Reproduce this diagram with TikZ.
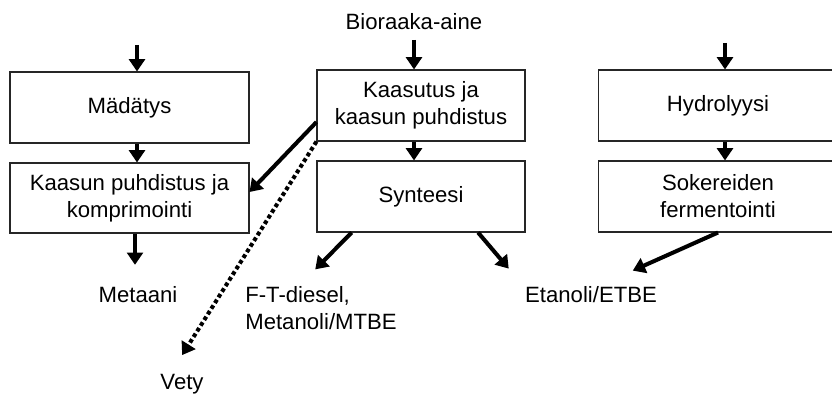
\documentclass[tikz,border=0pt]{standalone}
\usepackage{fontspec}
\setmainfont{Liberation Sans}
\usetikzlibrary{arrows.meta}

\begin{document}
\begin{tikzpicture}[x=0.02cm,y=-0.02cm,
    every node/.style={font=\fontsize{12.6}{15.4}\selectfont, align=center},
    box/.style={draw=black!85, line width=0.6pt, minimum width=4.8cm, minimum height=1.42cm, inner sep=0pt},
    flow/.style={line width=2.3pt, -{Triangle[length=7pt,width=9pt]}},
    vflow/.style={flow, dash pattern=on 2.2pt off 1.6pt}]
    \useasboundingbox (0,0) rectangle (832,394);

    % Process boxes
    \node[box, minimum width=4.78cm] (madatys) at (129.5,107.5) {Mädätys};
    \node[box, minimum width=4.78cm, minimum height=1.4cm] (puhdistus) at (129.5,198) {Kaasun puhdistus ja\\komprimointi};
    \node[box, minimum width=4.16cm] (kaasutus) at (421,105.5) {Kaasutus ja\\kaasun puhdistus};
    \node[box, minimum width=4.16cm] (synteesi) at (421,196.5) {Synteesi};
    \node[box] (hydrolyysi) at (718,105.5) {Hydrolyysi};
    \node[box] (sokerit) at (718,196.5) {Sokereiden\\fermentointi};

    % Inputs and products
    \node (bioraaka) at (414,22) {Bioraaka-aine};
    \node (metaani) at (138,295) {Metaani};
    \node (vety) at (182,384) {Vety};
    \node[align=left] (ftdiesel) at (321,308.5) {F-T-diesel,\\Metanoli/MTBE};
    \node (etanoli) at (591,295) {Etanoli/ETBE};

    \coordinate (inL) at (137,45);
    \coordinate (inR) at (725,43);

    % Flows
    \draw[flow] (inL) -- (inL |- madatys.north);
    \draw[flow] (madatys.south -| inL) -- (puhdistus.north -| inL);
    \draw[flow, shorten >=9pt] (puhdistus.south -| 135,0) -- (metaani.north -| 135,0);
    \draw[flow, shorten <=2pt] (bioraaka.south) -- (bioraaka.south |- kaasutus.north);
    \draw[flow] (kaasutus.south -| bioraaka) -- (synteesi.north -| bioraaka);
    \draw[flow] (inR) -- (inR |- hydrolyysi.north);
    \draw[flow] (hydrolyysi.south -| inR) -- (sokerit.north -| inR);

    \draw[flow] ([yshift=-9.4pt]kaasutus.west) -- ([yshift=3.4pt]puhdistus.east);
    \draw[vflow, shorten >=8.6pt] (kaasutus.south west) -- ([xshift=-4.5pt]vety.north);
    \draw[flow, shorten >=9pt] ([xshift=20pt]synteesi.south west) -- ([xshift=-9.6pt]ftdiesel.north);
    \draw[flow, shorten >=9pt] ([xshift=-27pt]synteesi.south east) -- (etanoli.north west);
    \draw[flow, shorten >=14pt] (sokerit.south) -- ([xshift=11pt]etanoli.north);
\end{tikzpicture}
\end{document}
